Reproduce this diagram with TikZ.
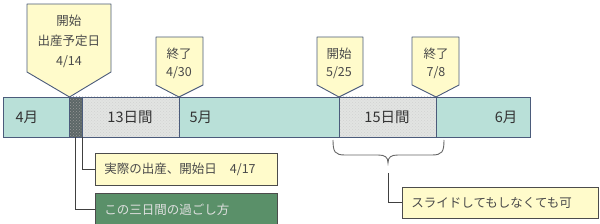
\documentclass[tikz,border=0pt]{standalone}
\usepackage{fontspec}
\setmainfont{Noto Sans CJK JP}
\usetikzlibrary{patterns}
\definecolor{barteal}{HTML}{B9E0D8}
\definecolor{barline}{HTML}{4B5B7B}
\definecolor{calloutfill}{HTML}{FFFBCB}
\definecolor{boxgreen}{HTML}{5A9069}
\definecolor{hatchgray}{HTML}{E2E4E2}
\definecolor{darkseg}{HTML}{5C6767}
\definecolor{txtgray}{HTML}{4A4A4A}

\begin{document}
\begin{tikzpicture}[x=1pt,y=-1pt,
  seg/.style={draw=barline,line width=0.9pt},
  callout/.style={draw=barline,fill=calloutfill,line width=0.9pt,line join=round},
  calltext/.style={text=txtgray,align=center,font=\fontsize{12.5}{#1}\selectfont},
  bartext/.style={text=black!80,font=\fontsize{14.5}{16}\selectfont},
  notebox/.style={draw=black!70,line width=0.9pt,fill=calloutfill,anchor=west,
    text width=#1,inner xsep=9pt,inner ysep=0pt,minimum height=31pt,align=left,
    text=txtgray,font=\fontsize{12.5}{15}\selectfont},
  link/.style={draw=black!75,line width=0.9pt}]
\clip (0,0) rectangle (600,224);

% bar
\draw[seg,fill=barteal] (3,97) rectangle (69,137);
\fill[darkseg] (69,97) rectangle (82,137);
\fill[pattern=crosshatch dots,pattern color=gray!80] (69,97) rectangle (82,137);
\draw[seg] (69,97) rectangle (82,137);
\fill[hatchgray] (82,97) rectangle (179,137);
\fill[pattern=crosshatch dots,pattern color=gray!35] (82,97) rectangle (179,137);
\draw[seg] (82,97) rectangle (179,137);
\draw[seg,fill=barteal] (179,97) rectangle (339,137);
\fill[hatchgray] (339,97) rectangle (436,137);
\fill[pattern=crosshatch dots,pattern color=gray!35] (339,97) rectangle (436,137);
\draw[seg] (339,97) rectangle (436,137);
\draw[seg,fill=barteal] (436,97) rectangle (530,137);

\node[bartext,anchor=west] (apr) at (12,117) {4月};
\node[bartext] (days13) at (130,117) {13日間};
\node[bartext,anchor=west] (may) at (186,117) {5月};
\node[bartext] (days15) at (387,117) {15日間};
\node[bartext,anchor=east] (jun) at (521,117) {6月};

% callouts
\draw[callout] (27,4) -- (111,4) -- (111,72) -- (69.5,97) -- (27,72) -- cycle;
\node[calltext=20] (due) at (69,41) {開始\\出産予定日\\4/14};
\draw[callout] (156,37) -- (203,37) -- (203,85) -- (179,97) -- (156,85) -- cycle;
\node[calltext=18] (end1) at (179,63) {終了\\4/30};
\draw[callout] (317,37) -- (363,37) -- (363,85) -- (339,97) -- (317,85) -- cycle;
\node[calltext=18] (start2) at (339,63) {開始\\5/25};
\draw[callout] (412,37) -- (459,37) -- (459,85) -- (436,97) -- (412,85) -- cycle;
\node[calltext=18] (end2) at (436,63) {終了\\7/8};

% notes
\coordinate (birthL) at (75,137);
\coordinate (birthR) at (82.5,137);
\node[notebox=164pt,minimum height=32pt] (actual) at (95,169) {実際の出産、開始日\hspace{13pt}4/17};
\node[notebox=164pt,fill=boxgreen,text=white!88!black,minimum height=33pt] (three) at (95,209.5) {この三日間の過ごし方};
\node[notebox=178pt] (slide) at (402,202.5) {スライドしてもしなくても可};

\draw[link] (birthR) |- (actual.west);
\draw[link] (birthL) |- (three.west);

% brace
\coordinate (bracetip) at (388,163);
\coordinate (slidetop) at (388,173);
\draw[draw=black!60,line width=0.9pt] (333,140) .. controls (333,152) and (335,155) .. (345,155)
  -- (378,155) .. controls (385,155) and (388,157) .. (bracetip)
  .. controls (388,157) and (391,155) .. (398,155) -- (432,155)
  .. controls (442,155) and (444,152) .. (444,140);
\draw[link] (slidetop) |- (slide.west);
\end{tikzpicture}
\end{document}
